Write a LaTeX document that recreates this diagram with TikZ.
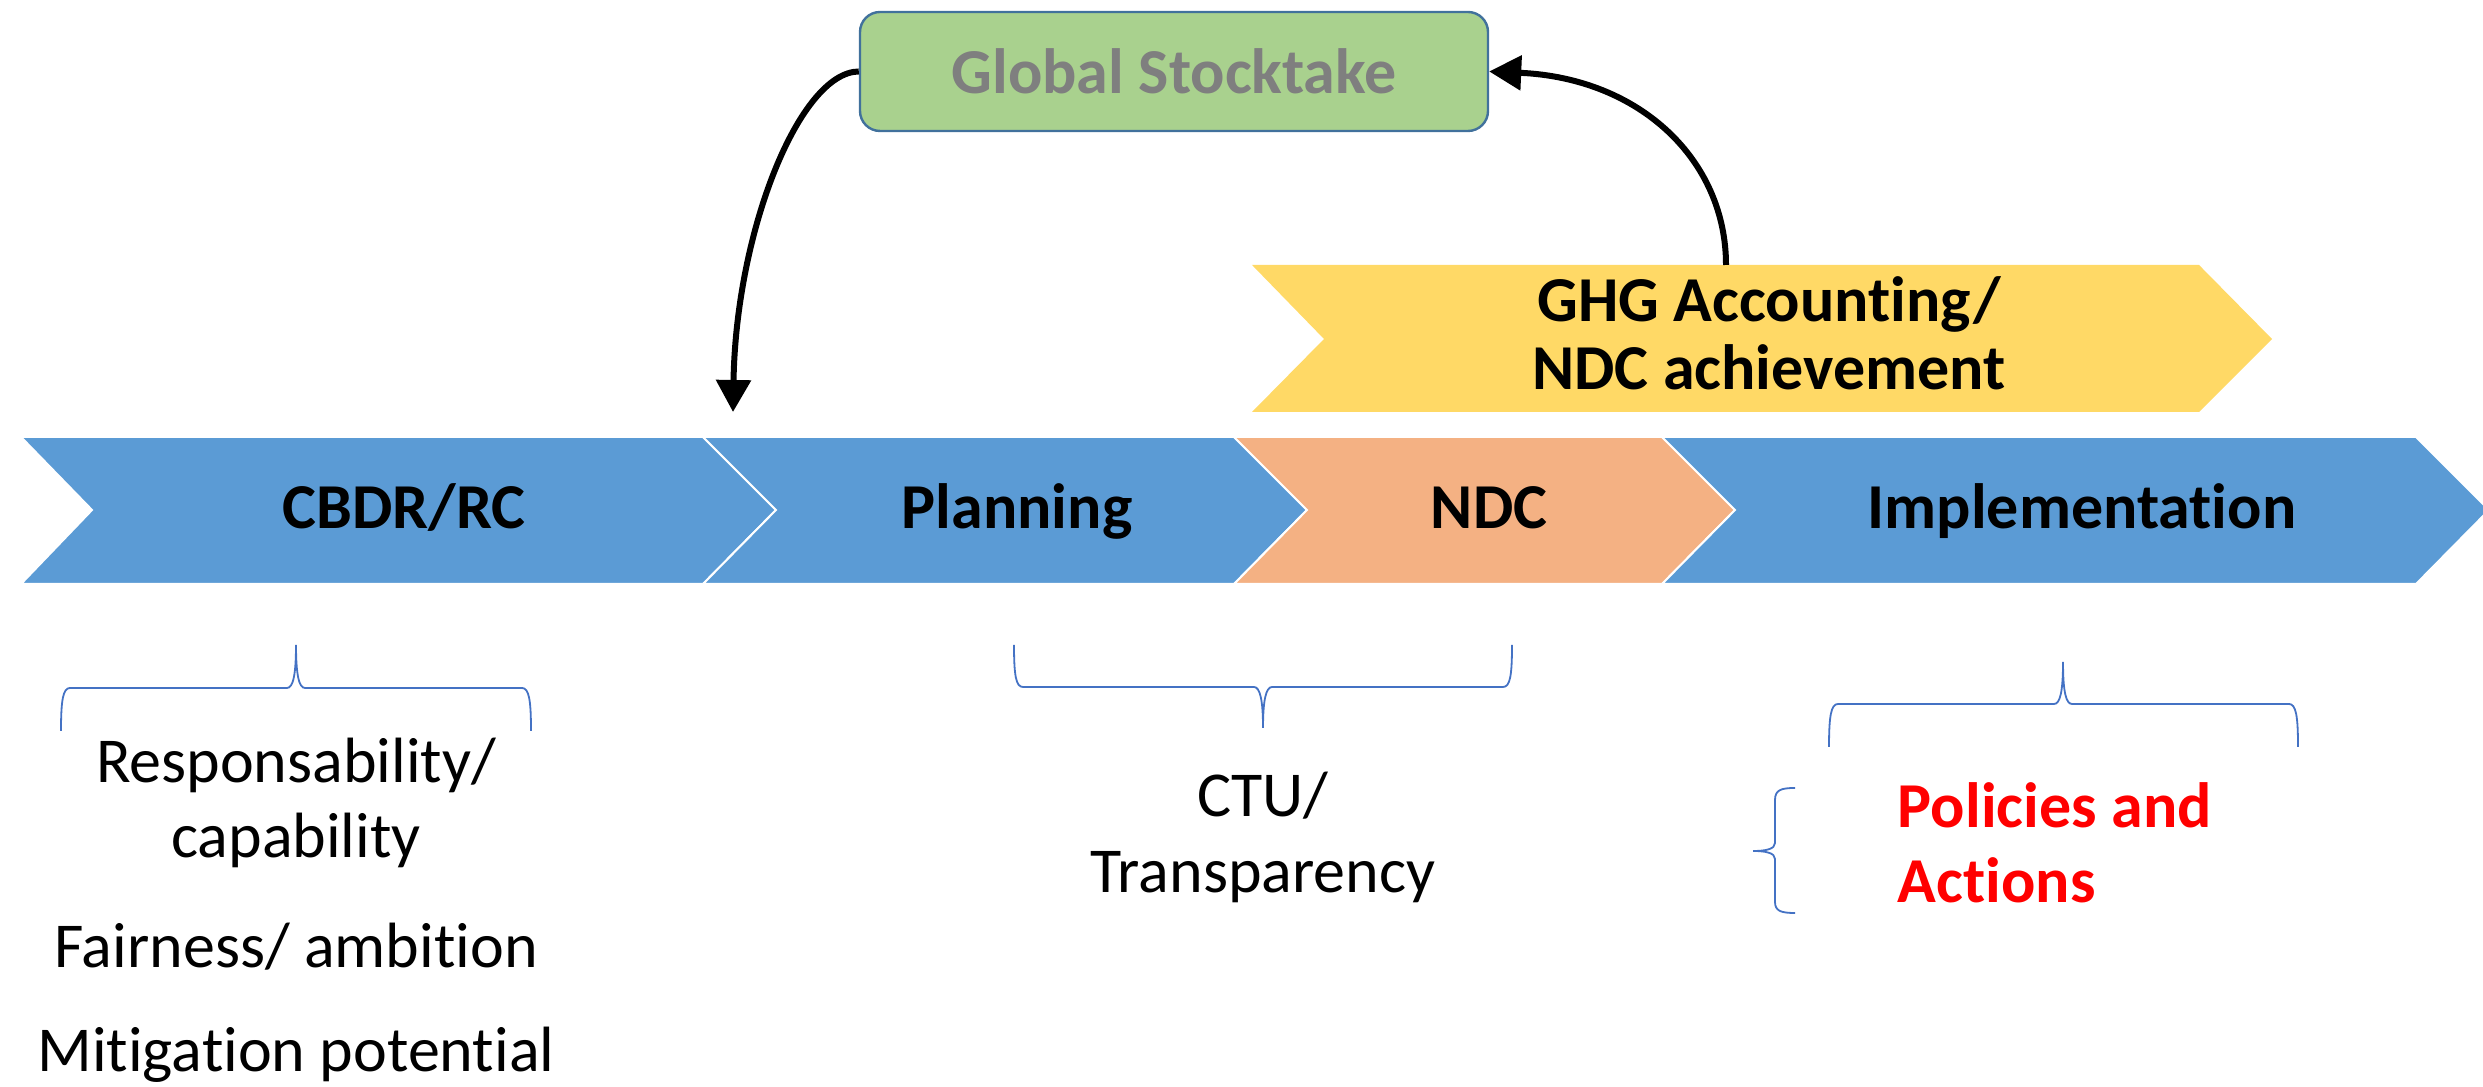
\documentclass[tikz,border=0pt]{standalone}
\usepackage{fontspec}
\setmainfont{Carlito}[Ligatures={NoCommon}]
\usetikzlibrary{arrows.meta}
\definecolor{chblue}{HTML}{5B9BD5}
\definecolor{chorange}{HTML}{F4B183}
\definecolor{chyellow}{HTML}{FFD966}
\definecolor{gsgreen}{HTML}{A9D18E}
\definecolor{gsborder}{HTML}{41719C}
\definecolor{gsgray}{HTML}{7F7F7F}
\definecolor{bracec}{HTML}{4472C4}
\definecolor{redtxt}{HTML}{FF0000}
\begin{document}
\begin{tikzpicture}[x=0.25pt,y=-0.25pt,
  chev/.style={draw=white,line width=0.5pt},
  lbl/.style={font=\fontsize{16pt}{19pt}\selectfont\bfseries,anchor=base,inner sep=0pt},
  txt/.style={font=\fontsize{16pt}{19pt}\selectfont,anchor=base,inner sep=0pt},
  bracestyle/.style={draw=bracec,line width=0.45pt},
  arr/.style={line width=1.5pt,-{Triangle[width=8.5pt,length=8pt]}}]
\useasboundingbox (0,0) rectangle (2483,1087);
% main band of chevrons
\fill[chblue,chev] (21,437) -- (703,437) -- (776,510) -- (703,584) -- (21,584) -- (92,510) -- cycle;
\fill[chblue,chev] (703,437) -- (1234,437) -- (1307,510) -- (1234,584) -- (703,584) -- (776,510) -- cycle;
\fill[chorange,chev] (1234,437) -- (1662,437) -- (1735,510) -- (1662,584) -- (1234,584) -- (1307,510) -- cycle;
\fill[chblue,chev] (1662,437) -- (2416,437) -- (2489,510) -- (2416,584) -- (1662,584) -- (1735,510) -- cycle;
\node[lbl] (cbdr) at (404,529) {CBDR/RC};
\node[lbl] (plan) at (1017,529) {Planning};
\node[lbl] (ndc) at (1489,529) {NDC};
\node[lbl] (impl) at (2082,529) {Implementation};
% GHG chevron
\fill[chyellow] (1252,265) -- (2199,265) -- (2272,339) -- (2199,412) -- (1252,412) -- (1324,339) -- cycle;
\node[lbl] (ghg1) at (1769,322) {GHG Accounting/};
\node[lbl] (ghg2) at (1769,390) {NDC achievement};
\coordinate (ghgtop) at (1726,265);
% Global Stocktake
\node[draw=gsborder,fill=gsgreen,line width=0.6pt,rounded corners=5pt,
  minimum width=157pt,minimum height=29.75pt,inner sep=0pt,
  font=\fontsize{16pt}{19pt}\selectfont\bfseries,text=gsgray] (gs) at (1174,71.5) {Global Stocktake};
% arrows
\coordinate (tipone) at (733,412);
\draw[arr] (gs.west) .. controls (800,72) and (736,230) .. (tipone);
\draw[arr] (ghgtop) .. controls (1726,160) and (1640,78) .. (gs.east);
% braces
\draw[bracestyle] (61,731) .. controls (61,700) and (63,688) .. (70,688) -- (287,688) .. controls (293,688) and (296,675) .. (296,645) .. controls (296,675) and (299,688) .. (305,688) -- (522,688) .. controls (529,688) and (531,700) .. (531,731);
\draw[bracestyle] (1014,645) .. controls (1014,676) and (1016,687) .. (1023,687) -- (1254,687) .. controls (1260,687) and (1263,700) .. (1263,728) .. controls (1263,700) and (1266,687) .. (1272,687) -- (1503,687) .. controls (1510,687) and (1512,676) .. (1512,645);
\draw[bracestyle] (1829,747) .. controls (1829,716) and (1831,704) .. (1838,704) -- (2054,704) .. controls (2060,704) and (2063,692) .. (2063,662) .. controls (2063,692) and (2066,704) .. (2072,704) -- (2289,704) .. controls (2296,704) and (2298,716) .. (2298,747);
\draw[bracestyle] (1795,788) .. controls (1781,788) and (1775,790) .. (1775,800) -- (1775,843) .. controls (1775,849) and (1766,851) .. (1753,851) .. controls (1766,851) and (1775,853) .. (1775,859) -- (1775,902) .. controls (1775,911) and (1781,913) .. (1795,913);
% lower texts
\node[txt] (resp) at (296,783) {Responsability/};
\node[txt] (capa) at (296,858) {capability};
\node[txt] (fair) at (296,968) {Fairness/ ambition};
\node[txt] (miti) at (296,1072) {Mitigation potential};
\node[txt] (ctu) at (1263,817) {CTU/};
\node[txt] (transp) at (1263,893) {Transparency};
\node[lbl,anchor=base west,text=redtxt] (pol) at (1897,828) {Policies and};
\node[lbl,anchor=base west,text=redtxt] (act) at (1897,903) {Actions};
\end{tikzpicture}
\end{document}
